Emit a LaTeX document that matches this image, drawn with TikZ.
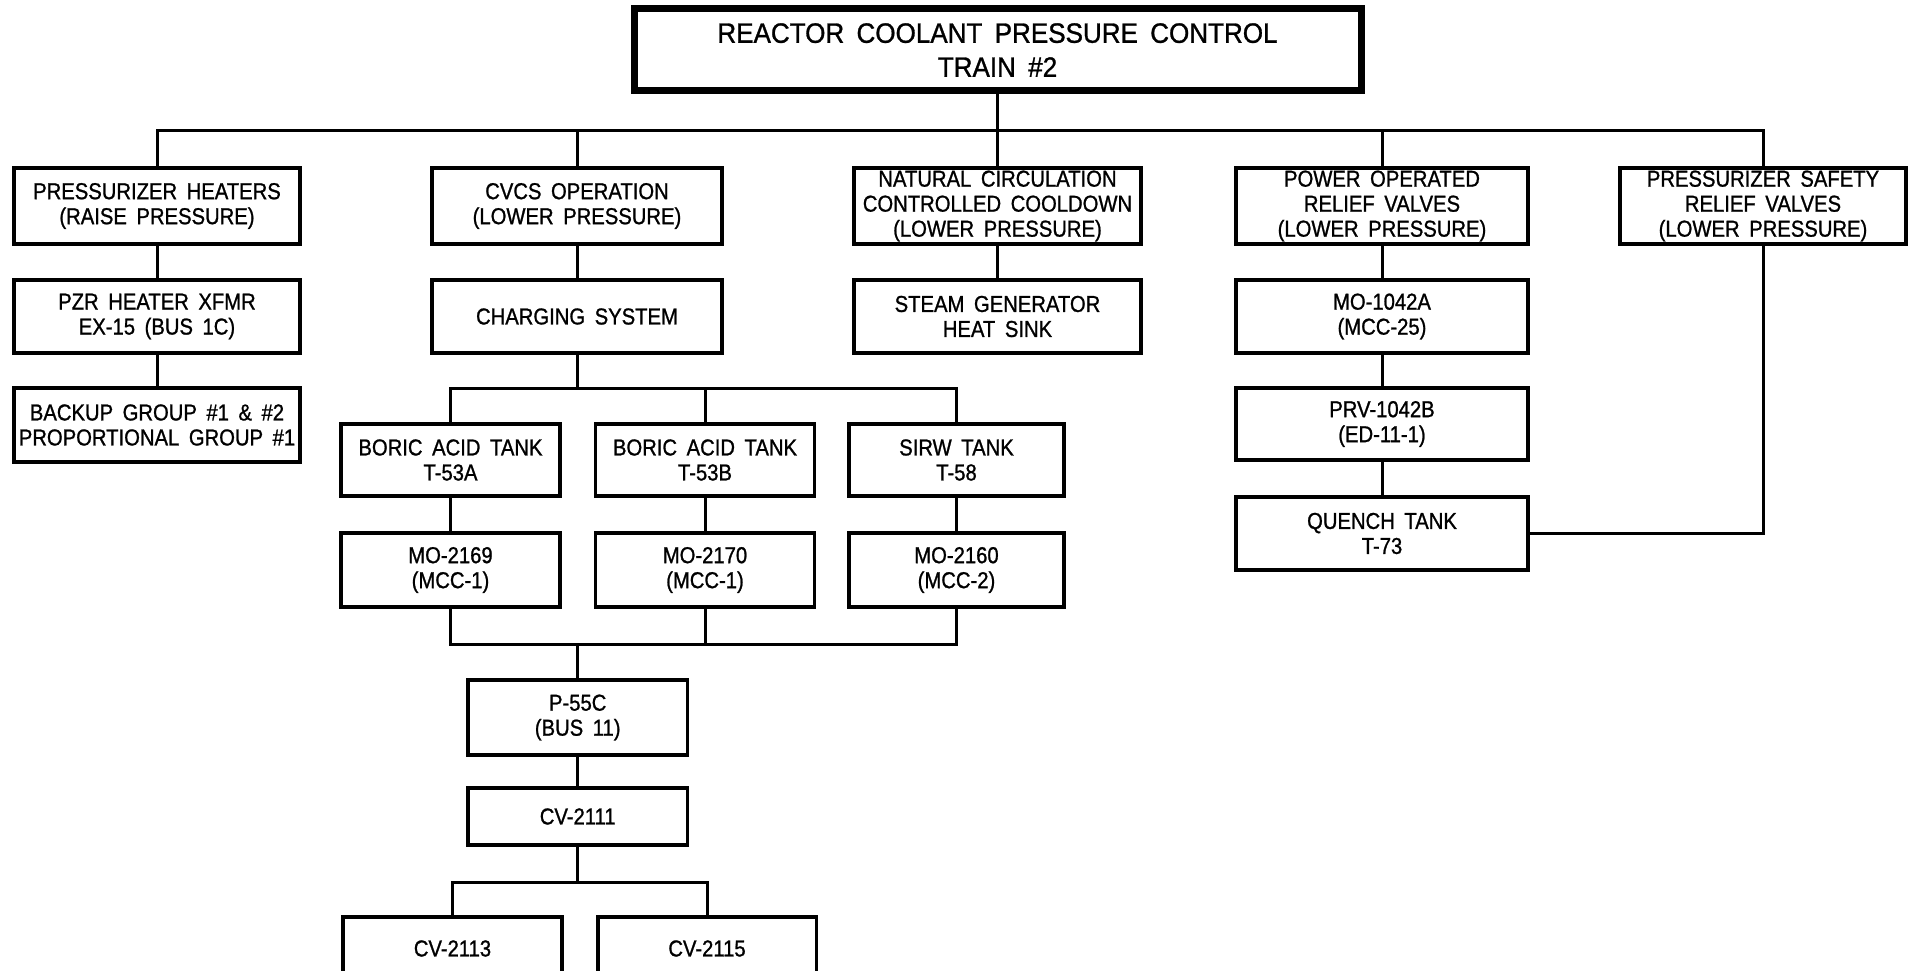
\documentclass[tikz,border=0pt]{standalone}
\usepackage{fontspec}
\setmainfont{Liberation Sans}[WordSpace=1.7, FakeStretch=0.88, FakeBold=1]
\newfontfamily\titlefont{Liberation Sans}[WordSpace=1.7, FakeStretch=0.93, FakeBold=1]
\begin{document}
\begin{tikzpicture}[x=1pt,y=-1pt,
  box/.style={draw, line width=3.5pt, rectangle, inner sep=0pt, align=center,
    font=\fontsize{23}{25}\selectfont},
  titlebox/.style={box, line width=7pt, font=\titlefont\fontsize{28}{34}\selectfont},
  conn/.style={line width=3pt}]
\clip (0,0) rectangle (1912,971);
\fill[white] (0,0) rectangle (1912,971);
% title
\node[titlebox, minimum width=727, minimum height=82] (title) at (997.5,50) {REACTOR COOLANT PRESSURE CONTROL\\TRAIN \#2};
% row 1
\node[box, minimum width=286, minimum height=76] (ph) at (157,206) {PRESSURIZER HEATERS\\(RAISE PRESSURE)};
\node[box, minimum width=290, minimum height=76] (cvcs) at (577,206) {CVCS OPERATION\\(LOWER PRESSURE)};
\node[box, minimum width=287, minimum height=76] (nc) at (997.5,206) {NATURAL CIRCULATION\\CONTROLLED COOLDOWN\\(LOWER PRESSURE)};
\node[box, minimum width=292, minimum height=76] (porv) at (1382,206) {POWER OPERATED\\RELIEF VALVES\\(LOWER PRESSURE)};
\node[box, minimum width=286, minimum height=76] (psrv) at (1763,206) {PRESSURIZER SAFETY\\RELIEF VALVES\\(LOWER PRESSURE)};
% row 2
\node[box, minimum width=286, minimum height=73] (pzr) at (157,316.5) {PZR HEATER XFMR\\EX-15 (BUS 1C)};
\node[box, minimum width=290, minimum height=73] (chg) at (577,316.5) {CHARGING SYSTEM};
\node[box, minimum width=287, minimum height=73] (sg) at (997.5,316.5) {STEAM GENERATOR\\HEAT SINK};
\node[box, minimum width=292, minimum height=73] (mo42a) at (1382,316.5) {MO-1042A\\(MCC-25)};
% row 3
\node[box, minimum width=286, minimum height=74] (bk) at (157,425) {BACKUP GROUP \#1 \& \#2\\PROPORTIONAL GROUP \#1};
\node[box, minimum width=292, minimum height=72] (prv) at (1382,424) {PRV-1042B\\(ED-11-1)};
\node[box, minimum width=292, minimum height=73] (qt) at (1382,533.5) {QUENCH TANK\\T-73};
% tanks
\node[box, minimum width=219, minimum height=72] (bata) at (450.5,460) {BORIC ACID TANK\\T-53A};
\node[box, minimum width=219, minimum height=72] (batb) at (705,460) {BORIC ACID TANK\\T-53B};
\node[box, minimum width=215, minimum height=72] (sirw) at (956.5,460) {SIRW TANK\\T-58};
% valves
\node[box, minimum width=219, minimum height=74] (mo69) at (450.5,570) {MO-2169\\(MCC-1)};
\node[box, minimum width=219, minimum height=74] (mo70) at (705,570) {MO-2170\\(MCC-1)};
\node[box, minimum width=215, minimum height=74] (mo60) at (956.5,570) {MO-2160\\(MCC-2)};
% pump and CVs
\node[box, minimum width=219.5, minimum height=75] (p55) at (577.7,717.5) {P-55C\\(BUS 11)};
\node[box, minimum width=219.5, minimum height=57] (cv11) at (577.7,816.5) {CV-2111};
\node[box, minimum width=219, minimum height=63] (cv13) at (452.5,948.5) {CV-2113};
\node[box, minimum width=218.5, minimum height=63] (cv15) at (707,948.5) {CV-2115};
% bus coordinates
\coordinate (bus) at (997.5,131);
\coordinate (cbus) at (577,388);
\coordinate (mbus) at (577,644);
\coordinate (vbus) at (580,882);
% connectors
\draw[conn] (title.south) -- (title.south |- bus);
\draw[conn] (ph.north) |- (psrv.north |- bus) -- (psrv.north);
\draw[conn] (cvcs.north) -- (cvcs.north |- bus);
\draw[conn] (nc.north) -- (nc.north |- bus);
\draw[conn] (porv.north) -- (porv.north |- bus);
\draw[conn] (ph.south) -- (pzr.north);
\draw[conn] (pzr.south) -- (bk.north);
\draw[conn] (cvcs.south) -- (chg.north);
\draw[conn] (nc.south) -- (sg.north);
\draw[conn] (porv.south) -- (mo42a.north);
\draw[conn] (mo42a.south) -- (prv.north);
\draw[conn] (prv.south) -- (qt.north);
\draw[conn] (psrv.south) |- (qt.east);
\draw[conn] (chg.south) -- (chg.south |- cbus);
\draw[conn] (bata.north) |- (sirw.north |- cbus) -- (sirw.north);
\draw[conn] (batb.north) -- (batb.north |- cbus);
\draw[conn] (bata.south) -- (mo69.north);
\draw[conn] (batb.south) -- (mo70.north);
\draw[conn] (sirw.south) -- (mo60.north);
\draw[conn] (mo69.south) |- (mo60.south |- mbus) -- (mo60.south);
\draw[conn] (mo70.south) -- (mo70.south |- mbus);
\draw[conn] (p55.north) -- (p55.north |- mbus);
\draw[conn] (p55.south) -- (cv11.north);
\draw[conn] (cv11.south) -- (cv11.south |- vbus);
\draw[conn] (cv13.north) |- (cv15.north |- vbus) -- (cv15.north);
\end{tikzpicture}
\end{document}
